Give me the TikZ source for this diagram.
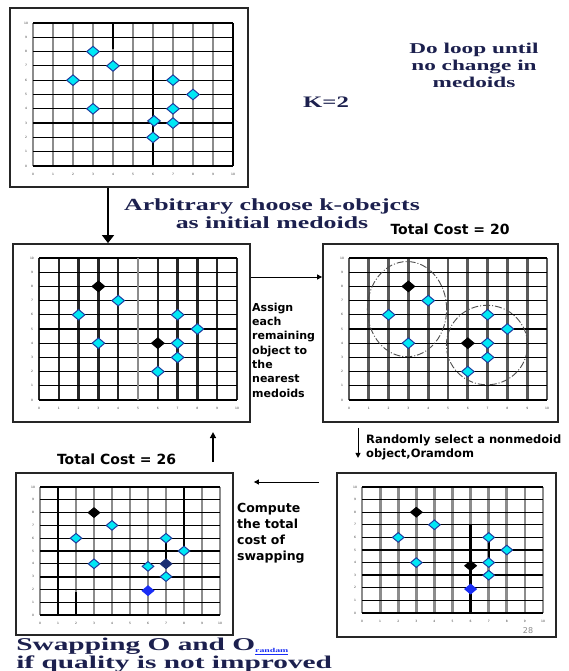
\documentclass[tikz,border=0pt]{standalone}
\usepackage{fontspec}
\setmainfont{Liberation Serif}
\newfontfamily\notefont{DejaVu Sans}
\usetikzlibrary{shapes.geometric, arrows.meta, positioning, fit}

\definecolor{titleblue}{RGB}{28,32,78}
\definecolor{ptcyan}{RGB}{0,232,245}
\definecolor{ptedge}{RGB}{30,60,160}
\definecolor{ptblue}{RGB}{25,45,245}
\definecolor{ptnavy}{RGB}{25,45,115}

% grid 0..10 with tick labels, drawn in data units of the current scope
\newcommand{\kgrid}[1]{%
  \foreach \i in {0,...,10} {
    \draw[vline] (\i,0) -- (\i,10);
  }
  \foreach \i in {0,...,10} {
    \draw[hline] (0,\i) -- (10,\i);
    \node[tick, yshift=-8pt] (#1x\i) at (\i,0) {\i};
    \node[tick, xshift=-7pt] (#1y\i) at (0,\i) {\i};
  }%
}

\begin{document}
\begin{tikzpicture}[
    x=1pt, y=-1pt,
    frame/.style={draw=black!85, line width=1.8pt, inner sep=0pt, fill=white},
    vline/.style={line width=2.8pt, draw=black!45},
    hline/.style={line width=1.2pt, draw=black},
    tick/.style={font=\notefont\fontsize{3}{3}\selectfont, inner sep=0pt, text=black!80},
    pt/.style={diamond, draw=ptedge, fill=ptcyan, line width=1pt, inner sep=0pt,
               minimum width=13pt, minimum height=11pt},
    medoid/.style={pt, draw=black, fill=black},
    rnd/.style={pt, draw=ptblue, fill=ptblue},
    swapped/.style={pt, draw=ptnavy, fill=ptnavy},
    cluster/.style={draw=black!70, line width=0.9pt,
                    dash pattern=on 7pt off 2pt on 1pt off 2pt},
    title/.style={font=\bfseries\fontsize{17}{18}\selectfont, text=titleblue,
                  align=center, inner sep=0pt},
    note/.style={font=\notefont\bfseries\fontsize{11}{14.3}\selectfont,
                 align=left, inner sep=0pt},
    cost/.style={font=\notefont\bfseries\fontsize{14}{16}\selectfont, inner sep=0pt},
    bigarrow/.style={-{Triangle[length=8pt, width=12pt]}, line width=1.3pt},
    arrow/.style={-{Triangle[length=5pt, width=5pt]}, line width=1pt}
]
\path[use as bounding box, fill=white] (0,0) rectangle (568,671);

%% ── Panels ──────────────────────────────────────────────────────────────
\node[frame, fit={(10,8) (248,187)}]    (p1) {};
\node[frame, fit={(13,244) (250,422)}]  (p2) {};
\node[frame, fit={(323,244) (558,422)}] (p3) {};
\node[frame, fit={(16,473) (233,635)}]  (p4) {};
\node[frame, fit={(337,473) (556,637)}] (p5) {};

%% ── Panel 1: data set ───────────────────────────────────────────────────
\begin{scope}[shift={(33,166)}, x=20pt, y=14.3pt]
  \kgrid{a}
  \draw[vline, draw=black] (4,10) -- (4,8.2);
  \draw[vline, draw=black] (6,7) -- (6,0);
  \draw[vline, draw=black] (10,0) -- (10,10);
  \node[pt] (a1) at (3,8) {};
  \node[pt] (a2) at (4,7) {};
  \node[pt] (a3) at (2,6) {};
  \node[pt] (a4) at (3,4) {};
  \node[pt] (a5) at (7,6) {};
  \node[pt] (a6) at (8,5) {};
  \node[pt] (a7) at (7,4) {};
  \node[pt] (a8) at (6.05,3.15) {};
  \node[pt] (a9) at (7,3) {};
  \node[pt] (a10) at (6,2) {};
\end{scope}

%% ── Panel 2: initial medoids ────────────────────────────────────────────
\begin{scope}[shift={(39,400)}, x=19.8pt, y=14.2pt, vline/.append style={draw=black!85, line width=2.4pt}]
  \kgrid{b}
  \draw[vline, draw=black!45] (5,0) -- (5,10);
  \node[medoid] (b1) at (3,8) {};
  \node[pt] (b2) at (4,7) {};
  \node[pt] (b3) at (2,6) {};
  \node[pt] (b4) at (3,4) {};
  \node[pt] (b5) at (7,6) {};
  \node[pt] (b6) at (8,5) {};
  \node[pt] (b7) at (7,4) {};
  \node[medoid] (b8) at (6,4) {};
  \node[pt] (b9) at (7,3) {};
  \node[pt] (b10) at (6,2) {};
\end{scope}

%% ── Panel 3: clusters ───────────────────────────────────────────────────
\begin{scope}[shift={(349,400)}, x=19.8pt, y=14.2pt, vline/.append style={draw=black!65, line width=2.8pt}]
  \kgrid{c}
  \draw[cluster] (2.93,6.4) ellipse [x radius=2, y radius=3.35];
  \draw[cluster] (6.97,3.87) ellipse [x radius=2.05, y radius=2.8];
  \node[medoid] (c1) at (3,8) {};
  \node[pt] (c2) at (4,7) {};
  \node[pt] (c3) at (2,6) {};
  \node[pt] (c4) at (3,4) {};
  \node[pt] (c5) at (7,6) {};
  \node[pt] (c6) at (8,5) {};
  \node[pt] (c7) at (7,4) {};
  \node[medoid] (c8) at (6,4) {};
  \node[pt] (c9) at (7,3) {};
  \node[pt] (c10) at (6,2) {};
\end{scope}

%% ── Panel 4: swapped ────────────────────────────────────────────────────
\begin{scope}[shift={(40,615)}, x=18pt, y=12.8pt, pt/.append style={minimum width=12pt, minimum height=10pt}]
  \kgrid{d}
  \draw[vline, draw=black] (1,0) -- (1,10);
  \draw[vline, draw=black] (8,5) -- (8,10);
  \draw[vline, draw=black] (2,0) -- (2,1.8);
  \draw[vline, draw=black, line width=1.6pt] (7,4) -- (7,6);
  \draw[hline, line width=1.8pt] (0,3) -- (10,3);
  \node[medoid] (d1) at (3,8) {};
  \node[pt] (d2) at (4,7) {};
  \node[pt] (d3) at (2,6) {};
  \node[pt] (d4) at (3,4) {};
  \node[pt] (d5) at (7,6) {};
  \node[pt] (d6) at (8,5) {};
  \node[swapped] (d7) at (7,4) {};
  \node[pt] (d8) at (6,3.8) {};
  \node[pt] (d9) at (7,3) {};
  \node[rnd] (d10) at (6,1.9) {};
\end{scope}

%% ── Panel 5: random object ──────────────────────────────────────────────
\begin{scope}[shift={(362,613)}, x=18.1pt, y=12.6pt, pt/.append style={minimum width=12pt, minimum height=10pt}]
  \kgrid{e}
  \draw[vline, draw=black] (6,0) -- (6,7);
  \draw[vline, draw=black, line width=1.6pt] (7,4) -- (7,6);
  \draw[hline, line width=1.8pt] (0,3) -- (10,3);
  \node[medoid] (e1) at (3,8) {};
  \node[pt] (e2) at (4,7) {};
  \node[pt] (e3) at (2,6) {};
  \node[pt] (e4) at (3,4) {};
  \node[pt] (e5) at (7,6) {};
  \node[pt] (e6) at (8,5) {};
  \node[pt] (e7) at (7,4) {};
  \node[medoid] (e8) at (6,3.75) {};
  \node[pt] (e9) at (7,3) {};
  \node[rnd] (e10) at (6,1.9) {};
\end{scope}

%% ── Texts ───────────────────────────────────────────────────────────────
\node[title, font=\bfseries\fontsize{15}{17}\selectfont, xscale=1.55] (loop) at (474,65)
      {Do loop until\\no change in\\medoids};
\node[title, font=\bfseries\fontsize{16}{17}\selectfont, xscale=1.55] (k) at (326,102) {K=2};
\node[title, xscale=1.52] (choose) at (272,214) {Arbitrary choose k-obejcts\\as initial medoids};
\node[title, align=left, anchor=west, font=\bfseries\fontsize{18}{16}\selectfont, xscale=1.63] (swap) at (16,655)
      {Swapping O and O\raisebox{-2pt}{\fontsize{6}{6}\selectfont\color{ptblue}\underline{randam}}\\if quality is not improved};

\node[cost] (cost20) at (450,229) {Total Cost = 20};
\node[cost] (cost26) at (116.5,459) {Total Cost = 26};

\node[note, anchor=west] (assign) at (252,350)
      {Assign\\each\\remaining\\object to\\the\\nearest\\medoids};
\node[note, anchor=west, font=\notefont\bfseries\fontsize{11.5}{14}\selectfont] (select) at (366,447)
      {Randomly select a nonmedoid\\object,Oramdom};
\node[note, anchor=west, font=\notefont\bfseries\fontsize{12.5}{16}\selectfont] (compute) at (237,533)
      {Compute\\the total\\cost of\\swapping};

\node[font=\notefont\fontsize{8}{8}\selectfont, text=black!45, inner sep=0pt] (page) at (528,631) {28};

%% ── Arrows ──────────────────────────────────────────────────────────────
\draw[bigarrow] ([xshift=-21pt]p1.south) -- ([xshift=-21pt]p1.south |- p2.north);
\draw[arrow] ([yshift=56pt]p2.east) -- ([yshift=56pt]p2.east -| p3.west);

\coordinate (r1) at ([xshift=-82.5pt, yshift=-5pt]p3.south);
\coordinate (r2) at ([yshift=-30pt]r1);
\draw[arrow] (r1) -- (r2);

\coordinate (c1) at ([xshift=-17pt, yshift=73pt]p5.west);
\coordinate (c2) at ([xshift=20pt]p4.east |- c1);
\draw[arrow] (c1) -- (c2);

\coordinate (u1) at ([xshift=88.5pt, yshift=10pt]p4.north);
\coordinate (u2) at ([yshift=30pt]u1);
\draw[arrow, line width=1.6pt, -{Triangle[length=6pt, width=6pt]}] (u1) -- (u2);

\end{tikzpicture}
\end{document}
